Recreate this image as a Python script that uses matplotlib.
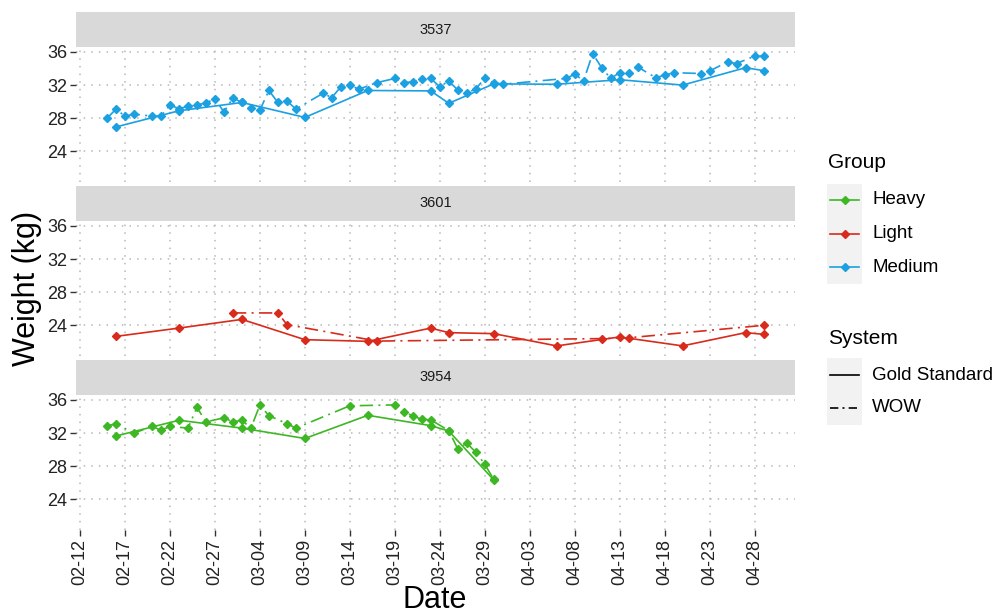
import matplotlib
matplotlib.use("Agg")
import matplotlib.pyplot as plt
import matplotlib.dates as mdates
from matplotlib.patches import Rectangle
import pandas as pd

plt.rcParams['font.family'] = ['Liberation Sans', 'DejaVu Sans']

YEAR = "2019"
animals = ["3537", "3601", "3954"]
animal_group = ["Medium", "Light", "Heavy"]
group_names = ["Heavy", "Light", "Medium"]
group_colors = {"Heavy": "#3DB824", "Light": "#D82B1B", "Medium": "#1BA0E2"}
system_names = ["Gold Standard", "WOW"]

# ---- 3537 (Medium) ----
gold_3537_dates = ["02-16", "02-23", "03-02", "03-09", "03-16", "03-23", "03-25",
                   "03-30", "04-06", "04-13", "04-20", "04-27", "04-29"]
gold_3537_kg = [26.95, 28.9, 29.9, 28.1, 31.35, 31.3, 29.8,
                32.15, 32.1, 32.65, 32.0, 34.1, 33.75]
wow_3537_dates = ["02-15", "02-16", "02-17", "02-18", "02-20", "02-21", "02-22", "02-23",
                  "02-24", "02-25", "02-26", "02-27", "02-28", "03-01", "03-02", "03-03",
                  "03-04", "03-05", "03-06", "03-07", "03-08", "03-11", "03-12", "03-13",
                  "03-14", "03-15", "03-17", "03-19", "03-20", "03-21", "03-22", "03-23",
                  "03-24", "03-25", "03-26", "03-27", "03-28", "03-29", "03-30", "03-31",
                  "04-07", "04-08", "04-09", "04-10", "04-11", "04-12", "04-13", "04-14",
                  "04-15", "04-17", "04-18", "04-19", "04-22", "04-23", "04-25", "04-26",
                  "04-28", "04-29"]
wow_3537_kg = [28.0, 29.1, 28.25, 28.5, 28.25, 28.25, 29.6, 29.15,
               29.45, 29.6, 29.85, 30.35, 28.75, 30.45, 29.9, 29.25,
               29.0, 31.35, 29.9, 30.1, 29.1, 31.0, 30.5, 31.8,
               32.0, 31.5, 32.3, 32.8, 32.3, 32.4, 32.75, 32.8,
               31.8, 32.5, 31.4, 31.0, 31.55, 32.8, 32.3, 32.1,
               32.8, 33.3, 32.55, 35.8, 34.1, 32.8, 33.5, 33.5,
               34.2, 32.9, 33.2, 33.5, 33.4, 33.7, 34.8, 34.6,
               35.5, 35.5]

# ---- 3601 (Light) ----
gold_3601_dates = ["02-16", "02-23", "03-02", "03-09", "03-16", "03-23", "03-25",
                   "03-30", "04-06", "04-13", "04-20", "04-27", "04-29"]
gold_3601_kg = [22.67, 23.67, 24.72, 22.27, 22.07, 23.67, 23.12,
                23.0, 21.52, 22.6, 21.52, 23.12, 22.92]
wow_3601_dates = ["03-01", "03-06", "03-07", "03-17", "04-11", "04-14", "04-29"]
wow_3601_kg = [25.5, 25.5, 24.1, 22.1, 22.4, 22.5, 24.0]

# ---- 3954 (Heavy) ----
gold_3954_dates = ["02-16", "02-23", "03-02", "03-09", "03-16", "03-23", "03-25", "03-30"]
gold_3954_kg = [31.65, 33.55, 32.6, 31.35, 34.15, 32.9, 32.25, 26.35]
wow_3954_dates = ["02-15", "02-16", "02-18", "02-20", "02-21", "02-22", "02-24", "02-25",
                  "02-26", "02-28", "03-01", "03-02", "03-03", "03-04", "03-05", "03-07",
                  "03-08", "03-14", "03-19", "03-20", "03-21", "03-22", "03-23", "03-25",
                  "03-26", "03-27", "03-28", "03-29", "03-30"]
wow_3954_kg = [32.9, 33.1, 32.0, 32.8, 32.35, 32.8, 32.6, 35.1,
               33.35, 33.85, 33.35, 33.55, 32.6, 35.4, 34.1, 33.15,
               32.6, 35.3, 35.4, 34.55, 34.1, 33.65, 33.6, 32.3,
               30.1, 30.8, 29.7, 28.25, 26.4]

gold_dates = [gold_3537_dates, gold_3601_dates, gold_3954_dates]
gold_kg = [gold_3537_kg, gold_3601_kg, gold_3954_kg]
wow_dates = [wow_3537_dates, wow_3601_dates, wow_3954_dates]
wow_kg = [wow_3537_kg, wow_3601_kg, wow_3954_kg]

x_tick_labels = ["02-12", "02-17", "02-22", "02-27", "03-04", "03-09", "03-14", "03-19",
                 "03-24", "03-29", "04-03", "04-08", "04-13", "04-18", "04-23", "04-28"]
y_ticks = [24, 28, 32, 36]


def to_dt(lst):
    return pd.to_datetime([YEAR + "-" + d for d in lst])


W, H = 996, 614
fig = plt.figure(figsize=(W / 100, H / 100), dpi=100)
fig.patch.set_facecolor("white")

left_px, right_px = 76, 795
strip_h, panel_h, gap = 35, 135, 4
top0 = 12

x_ticks = to_dt(x_tick_labels)
x0 = mdates.date2num(pd.Timestamp(YEAR + "-02-12")) - 0.45
x1 = mdates.date2num(pd.Timestamp(YEAR + "-02-12")) + 79.5

WOW_LS = (0, (8, 3.2, 1.2, 3.2))
GRID_COL = "#B8B8B8"
TXT_COL = "#222222"

for i, animal in enumerate(animals):
    s_top = top0 + i * (strip_h + panel_h + gap)
    p_top = s_top + strip_h
    p_bot = p_top + panel_h
    # strip
    sax = fig.add_axes([left_px / W, 1 - p_top / H, (right_px - left_px) / W, strip_h / H])
    sax.set_facecolor("#D9D9D9")
    for sp in sax.spines.values():
        sp.set_visible(False)
    sax.set_xticks([]); sax.set_yticks([])
    sax.text(0.5, 0.5, animal, ha="center", va="center", fontsize=10.5, color="#1A1A1A",
             transform=sax.transAxes)
    # panel
    ax = fig.add_axes([left_px / W, 1 - p_bot / H, (right_px - left_px) / W, panel_h / H])
    ax.set_facecolor("white")
    for sp in ax.spines.values():
        sp.set_visible(False)
    col = group_colors[animal_group[i]]
    ax.plot(to_dt(gold_dates[i]), gold_kg[i], color=col, lw=1.2, ls="-",
            marker="D", ms=3.6, zorder=3)
    ax.plot(to_dt(wow_dates[i]), wow_kg[i], color=col, lw=1.2, ls=WOW_LS,
            marker="D", ms=3.6, zorder=3)
    ax.set_xlim(x0, x1)
    ax.set_ylim(20.3, 36.6)
    ax.set_yticks(y_ticks)
    ax.set_yticklabels([str(v) for v in y_ticks])
    ax.set_xticks(x_ticks)
    ax.grid(True, color=GRID_COL, linestyle=(0, (1, 4)), linewidth=1.1)
    ax.set_axisbelow(True)
    ax.tick_params(axis="y", length=4.5, width=1.0, color="#333333",
                   labelsize=13, labelcolor=TXT_COL, pad=2)
    if i == len(animals) - 1:
        ax.set_xticklabels(x_tick_labels, rotation=90)
        ax.tick_params(axis="x", length=4.5, width=1.0, color="#333333",
                       labelsize=13, labelcolor=TXT_COL, pad=2)
    else:
        ax.tick_params(axis="x", length=0, labelbottom=False)

# axis titles
fig.text(27 / W, 1 - 288 / H, "Weight (kg)", rotation=90, ha="center", va="center",
         fontsize=22, color="black")
fig.text(435 / W, 1 - 600 / H, "Date", ha="center", va="center", fontsize=22, color="black")

# legends
lax = fig.add_axes([0, 0, 1, 1])
lax.set_xlim(0, W); lax.set_ylim(H, 0)
lax.axis("off")
lax.patch.set_alpha(0)

lax.text(828, 162, "Group", fontsize=15, ha="left", va="center", color="black")
lax.add_patch(Rectangle((827, 184), 35, 100, facecolor="#F2F2F2", edgecolor="none"))
for k, g in enumerate(group_names):
    yc = 200 + k * 33.5
    lax.plot([830, 859], [yc, yc], color=group_colors[g], lw=1.2)
    lax.plot([844.5], [yc], color=group_colors[g], marker="D", ms=3.6)
    lax.text(872, yc, g, fontsize=13.5, ha="left", va="center", color="black")

lax.text(828, 338, "System", fontsize=15, ha="left", va="center", color="black")
lax.add_patch(Rectangle((827, 358), 35, 67, facecolor="#F2F2F2", edgecolor="none"))
for k, (s, ls) in enumerate(zip(system_names, ["-", (0, (5, 2.5, 1.2, 2.5))])):
    yc = 375 + k * 32.5
    lax.plot([830, 859], [yc, yc], color="black", lw=1.2, ls=ls)
    lax.text(872, yc, s, fontsize=13.5, ha="left", va="center", color="black")

fig.savefig("out.png", dpi=100)
